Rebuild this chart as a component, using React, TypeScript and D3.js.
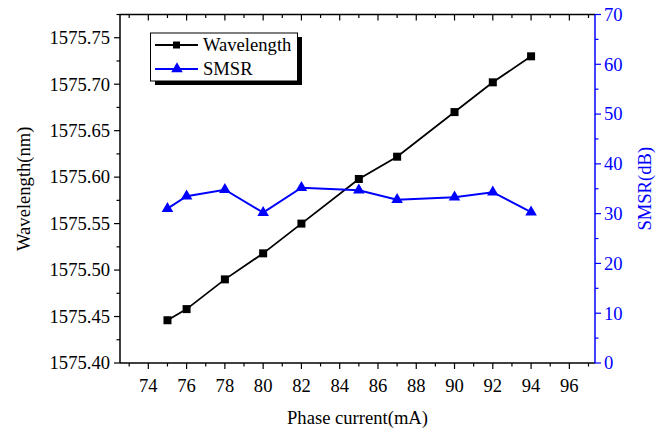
import * as d3 from "d3";

const current = [75, 76, 78, 80, 82, 85, 87, 90, 92, 94];
const wavelength = [1575.446, 1575.458, 1575.49, 1575.518, 1575.55, 1575.598, 1575.622, 1575.67, 1575.702, 1575.73];
const smsr = [31.0, 33.5, 34.8, 30.2, 35.2, 34.7, 32.8, 33.3, 34.3, 30.3];
const xTicks = [74, 76, 78, 80, 82, 84, 86, 88, 90, 92, 94, 96];
const leftTicks = [1575.4, 1575.45, 1575.5, 1575.55, 1575.6, 1575.65, 1575.7, 1575.75];
const rightTicks = [0, 10, 20, 30, 40, 50, 60, 70];

const W = 663, H = 430;
const m = { left: 120, right: 595, top: 14.5, bottom: 363 };
const FS = 18.6;
const BLUE = "#0000ff";

const x = d3.scaleLinear().domain([72.52, 97.34]).range([m.left, m.right]);
const yL = d3.scaleLinear().domain([1575.4, 1575.775]).range([m.bottom, m.top]);
const yR = d3.scaleLinear().domain([0, 70]).range([m.bottom, m.top]);
const xMinor = d3.range(73, 98);
const lMinor = d3.range(0, 16).map(i => 1575.4 + i * 0.025);
const rMinor = d3.range(0, 15).map(i => i * 5);

const wlLine = d3.line<number>().x((_, i) => x(current[i])).y(d => yL(d));
const smLine = d3.line<number>().x((_, i) => x(current[i])).y(d => yR(d));
const tri = d3.symbol().type(d3.symbolTriangle).size(58)() as string;

export default function App() {
  const mid = (m.top + m.bottom) / 2;
  return (
    <svg width={W} height={H}
      style={{ position: "absolute", left: 0, top: 0, fontFamily: "Liberation Serif", fontSize: FS }}>
      <rect width={W} height={H} fill="#fff" />

      {/* frame */}
      <line x1={m.left} x2={m.right} y1={m.bottom} y2={m.bottom} stroke="#000" strokeWidth={1.5} />
      <line x1={m.left} x2={m.right} y1={m.top} y2={m.top} stroke="#000" strokeWidth={1.5} />
      <line x1={m.left} x2={m.left} y1={m.top} y2={m.bottom} stroke="#000" strokeWidth={1.5} />
      <line x1={m.right} x2={m.right} y1={m.top} y2={m.bottom} stroke={BLUE} strokeWidth={1.5} />

      {/* x ticks */}
      {xMinor.map(v => (
        <g key={"x" + v}>
          <line x1={x(v)} x2={x(v)} y1={m.bottom} y2={m.bottom + (v % 2 === 0 ? 6 : 3.5)} stroke="#000" strokeWidth={1.2} />
          <line x1={x(v)} x2={x(v)} y1={m.top} y2={m.top + (v % 2 === 0 ? 6 : 3.5)} stroke="#000" strokeWidth={1.2} />
        </g>
      ))}
      {xTicks.map(v => (
        <text key={"xt" + v} x={x(v)} y={m.bottom + 29} textAnchor="middle">{v}</text>
      ))}

      {/* left ticks */}
      {lMinor.map((v, i) => (
        <line key={"l" + i} x1={m.left} x2={m.left - (i % 2 === 0 ? 6 : 3.5)} y1={yL(v)} y2={yL(v)} stroke="#000" strokeWidth={1.2} />
      ))}
      {leftTicks.map(v => (
        <text key={"lt" + v} x={m.left - 10} y={yL(v)} dy="0.34em" textAnchor="end">{v.toFixed(2)}</text>
      ))}

      {/* right ticks */}
      {rMinor.map((v, i) => (
        <line key={"r" + i} x1={m.right} x2={m.right + (i % 2 === 0 ? 6 : 3.5)} y1={yR(v)} y2={yR(v)} stroke={BLUE} strokeWidth={1.2} />
      ))}
      {rightTicks.map(v => (
        <text key={"rt" + v} x={m.right + 9} y={yR(v)} dy="0.34em" fill={BLUE}>{v}</text>
      ))}

      {/* titles */}
      <text transform={`translate(30,${mid}) rotate(-90)`} textAnchor="middle">Wavelength(nm)</text>
      <text transform={`translate(651,${mid}) rotate(-90)`} textAnchor="middle" fill={BLUE}>SMSR(dB)</text>
      <text x={(m.left + m.right) / 2} y={424} textAnchor="middle">Phase current(mA)</text>

      {/* series */}
      <path d={wlLine(wavelength) ?? ""} fill="none" stroke="#000" strokeWidth={1.8} />
      {wavelength.map((d, i) => (
        <rect key={"s" + i} x={x(current[i]) - 4} y={yL(d) - 4} width={8} height={8} fill="#000" />
      ))}
      <path d={smLine(smsr) ?? ""} fill="none" stroke={BLUE} strokeWidth={2} />
      {smsr.map((d, i) => (
        <path key={"t" + i} d={tri} transform={`translate(${x(current[i])},${yR(d)})`} fill={BLUE} />
      ))}

      {/* legend */}
      <rect x={155} y={37} width={147} height={48} fill="#000" />
      <rect x={150.5} y={33} width={147} height={48} fill="#fff" stroke="#000" strokeWidth={1} />
      <line x1={155} x2={198} y1={45} y2={45} stroke="#000" strokeWidth={1.8} />
      <rect x={173} y={41.5} width={7} height={7} fill="#000" />
      <text x={203} y={45} dy="0.34em">Wavelength</text>
      <line x1={155} x2={198} y1={69} y2={69} stroke={BLUE} strokeWidth={2} />
      <path d={tri} transform="translate(177,69)" fill={BLUE} />
      <text x={203} y={69} dy="0.34em">SMSR</text>
    </svg>
  );
}
